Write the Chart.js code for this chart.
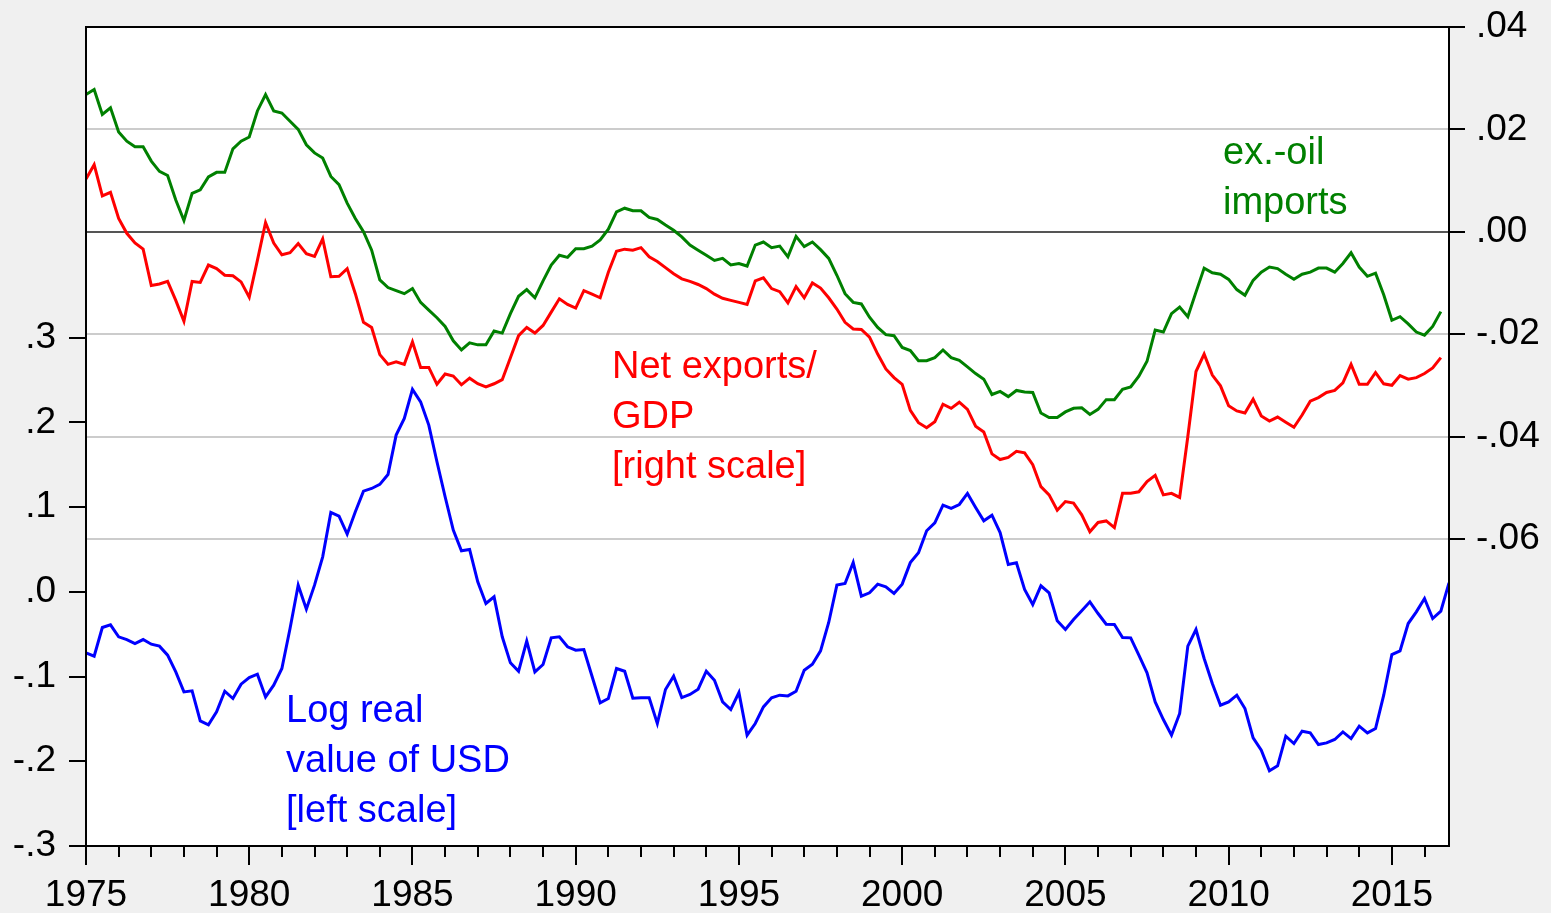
<!DOCTYPE html>
<html>
<head>
<meta charset="utf-8">
<title>Net exports and the real dollar</title>
<script src="https://cdn.jsdelivr.net/npm/chart.js@4.4.1/dist/chart.umd.min.js"></script>
<style>
  html, body { margin: 0; padding: 0; background: #f0f0f0; }
  canvas { display: block; }
</style>
</head>
<body>
<canvas id="lineChart" width="1551" height="913"></canvas>
<script>
// quarterly, 1975Q1 onwards
const startYear = 1975;
const endYear = 2016.75;

const yearTicks = [1975, 1980, 1985, 1990, 1995, 2000, 2005, 2010, 2015];
const leftTicks = [-0.3, -0.2, -0.1, 0.0, 0.1, 0.2, 0.3];
const rightTicks = [-0.06, -0.04, -0.02, 0.00, 0.02, 0.04];

// ex.-oil imports (right scale), 1975Q1-2016Q3
const exOilImports = [
  0.0268, 0.0278, 0.0229, 0.0242, 0.0195, 0.0177, 0.0166, 0.0166, 0.0138, 0.0118,
  0.0110, 0.0062, 0.0022, 0.0075, 0.0082, 0.0107, 0.0116, 0.0116, 0.0162, 0.0177,
  0.0185, 0.0236, 0.0268, 0.0236, 0.0232, 0.0216, 0.0200, 0.0170, 0.0154, 0.0144,
  0.0108, 0.0092, 0.0056, 0.0026, 0.0000, -0.0036, -0.0094, -0.0109, -0.0115, -0.0121,
  -0.0111, -0.0138, -0.0153, -0.0168, -0.0185, -0.0213, -0.0231, -0.0217, -0.0221, -0.0221,
  -0.0194, -0.0198, -0.0160, -0.0126, -0.0113, -0.0129, -0.0096, -0.0065, -0.0046, -0.0050,
  -0.0033, -0.0033, -0.0028, -0.0016, 0.0005, 0.0039, 0.0046, 0.0041, 0.0041, 0.0028,
  0.0024, 0.0013, 0.0003, -0.0010, -0.0026, -0.0036, -0.0046, -0.0056, -0.0052, -0.0065,
  -0.0062, -0.0067, -0.0026, -0.0020, -0.0031, -0.0028, -0.0049, -0.0009, -0.0029, -0.0020,
  -0.0035, -0.0052, -0.0085, -0.0121, -0.0138, -0.0141, -0.0167, -0.0187, -0.0201, -0.0203,
  -0.0226, -0.0232, -0.0252, -0.0252, -0.0246, -0.0231, -0.0246, -0.0251, -0.0264, -0.0277,
  -0.0288, -0.0318, -0.0312, -0.0322, -0.0310, -0.0313, -0.0314, -0.0354, -0.0363, -0.0363,
  -0.0352, -0.0345, -0.0344, -0.0357, -0.0347, -0.0328, -0.0328, -0.0308, -0.0303, -0.0282,
  -0.0253, -0.0192, -0.0196, -0.0160, -0.0147, -0.0166, -0.0118, -0.0071, -0.0080, -0.0083,
  -0.0093, -0.0113, -0.0124, -0.0095, -0.0079, -0.0069, -0.0072, -0.0083, -0.0093, -0.0083,
  -0.0079, -0.0071, -0.0071, -0.0079, -0.0062, -0.0041, -0.0069, -0.0087, -0.0081, -0.0123,
  -0.0173, -0.0166, -0.0180, -0.0196, -0.0202, -0.0185, -0.0156
];

// net exports / GDP (right scale), 1975Q1-2016Q3
const netExportsGdp = [
  0.0103, 0.0131, 0.0070, 0.0077, 0.0026, -0.0003, -0.0022, -0.0034, -0.0105, -0.0102,
  -0.0097, -0.0134, -0.0175, -0.0097, -0.0099, -0.0065, -0.0072, -0.0085, -0.0086, -0.0098,
  -0.0128, -0.0056, 0.0018, -0.0022, -0.0045, -0.0041, -0.0023, -0.0043, -0.0048, -0.0014,
  -0.0088, -0.0087, -0.0072, -0.0121, -0.0177, -0.0187, -0.0240, -0.0259, -0.0254, -0.0259,
  -0.0215, -0.0265, -0.0265, -0.0298, -0.0278, -0.0282, -0.0299, -0.0286, -0.0297, -0.0303,
  -0.0297, -0.0289, -0.0246, -0.0203, -0.0187, -0.0198, -0.0183, -0.0157, -0.0131, -0.0142,
  -0.0149, -0.0115, -0.0122, -0.0129, -0.0079, -0.0038, -0.0034, -0.0036, -0.0031, -0.0049,
  -0.0058, -0.0070, -0.0082, -0.0092, -0.0097, -0.0103, -0.0111, -0.0122, -0.0130, -0.0134,
  -0.0138, -0.0142, -0.0096, -0.0090, -0.0111, -0.0117, -0.0139, -0.0107, -0.0129, -0.0100,
  -0.0110, -0.0129, -0.0151, -0.0177, -0.0190, -0.0191, -0.0206, -0.0239, -0.0268, -0.0285,
  -0.0298, -0.0349, -0.0373, -0.0383, -0.0371, -0.0337, -0.0345, -0.0333, -0.0347, -0.0380,
  -0.0391, -0.0434, -0.0445, -0.0441, -0.0429, -0.0432, -0.0455, -0.0498, -0.0514, -0.0544,
  -0.0527, -0.0530, -0.0553, -0.0586, -0.0568, -0.0565, -0.0578, -0.0511, -0.0511, -0.0508,
  -0.0488, -0.0476, -0.0514, -0.0511, -0.0519, -0.0400, -0.0273, -0.0239, -0.0280, -0.0301,
  -0.0340, -0.0350, -0.0354, -0.0327, -0.0360, -0.0370, -0.0362, -0.0372, -0.0382, -0.0358,
  -0.0331, -0.0324, -0.0314, -0.0310, -0.0295, -0.0259, -0.0298, -0.0298, -0.0275, -0.0297,
  -0.0300, -0.0281, -0.0288, -0.0285, -0.0277, -0.0266, -0.0246
];

// log real value of USD (left scale), 1975Q1-2016Q4
const logRealUsd = [
  -0.0720, -0.0760, -0.0421, -0.0390, -0.0531, -0.0563, -0.0610, -0.0563, -0.0618, -0.0641,
  -0.0748, -0.0945, -0.1181, -0.1169, -0.1523, -0.1570, -0.1417, -0.1173, -0.1259, -0.1090,
  -0.1011, -0.0972, -0.1240, -0.1102, -0.0905, -0.0433, 0.0079, -0.0205, 0.0079, 0.0413,
  0.0937, 0.0893, 0.0681, 0.0945, 0.1189, 0.1220, 0.1268, 0.1385, 0.1850, 0.2047,
  0.2389, 0.2243, 0.1968, 0.1535, 0.1122, 0.0728, 0.0484, 0.0500, 0.0118, -0.0138,
  -0.0059, -0.0531, -0.0838, -0.0937, -0.0582, -0.0945, -0.0858, -0.0543, -0.0531, -0.0649,
  -0.0689, -0.0681, -0.0996, -0.1310, -0.1259, -0.0905, -0.0937, -0.1255, -0.1250, -0.1250,
  -0.1554, -0.1153, -0.0996, -0.1248, -0.1212, -0.1149, -0.0937, -0.1043, -0.1299, -0.1389,
  -0.1188, -0.1692, -0.1554, -0.1358, -0.1251, -0.1220, -0.1228, -0.1173, -0.0925, -0.0854,
  -0.0697, -0.0362, 0.0079, 0.0098, 0.0346, -0.0051, -0.0012, 0.0091, 0.0059, -0.0020,
  0.0091, 0.0345, 0.0461, 0.0721, 0.0815, 0.1023, 0.0984, 0.1031, 0.1161, 0.0996,
  0.0838, 0.0905, 0.0700, 0.0323, 0.0343, 0.0028, -0.0150, 0.0071, -0.0012, -0.0342,
  -0.0445, -0.0327, -0.0224, -0.0118, -0.0256, -0.0382, -0.0386, -0.0539, -0.0543, -0.0748,
  -0.0956, -0.1299, -0.1507, -0.1692, -0.1436, -0.0641, -0.0445, -0.0787, -0.1082, -0.1338,
  -0.1299, -0.1220, -0.1377, -0.1724, -0.1869, -0.2113, -0.2054, -0.1704, -0.1791, -0.1645,
  -0.1665, -0.1802, -0.1783, -0.1743, -0.1653, -0.1732, -0.1586, -0.1665, -0.1614, -0.1220,
  -0.0740, -0.0697, -0.0374, -0.0236, -0.0079, -0.0315, -0.0228, 0.0106
];

function toPoints(values) {
  return values.map((v, i) => ({ x: startYear + i / 4, y: v }));
}

// ".3", "-.1", ".00" style labels
function stripZero(v, digits) {
  return v.toFixed(digits).replace('0.', '.');
}

// fixed axis box, no extra label overflow padding
function fixBox(w) {
  return s => {
    s.width = w;
    s.paddingTop = 0;
    s.paddingBottom = 0;
  };
}

const FONT = "'Liberation Sans', Arial, sans-serif";
Chart.defaults.font.family = FONT;
Chart.defaults.font.size = 37;
Chart.defaults.color = '#000';

// white plot area + black frame + year tick marks
const framePlugin = {
  id: 'frame',
  beforeDraw(chart) {
    const a = chart.chartArea;
    const ctx = chart.ctx;
    ctx.save();
    ctx.fillStyle = '#ffffff';
    ctx.fillRect(a.left, a.top, a.right - a.left, a.bottom - a.top);
    ctx.restore();
  },
  afterDraw(chart) {
    const a = chart.chartArea;
    const ctx = chart.ctx;
    const xs = chart.scales.x;
    ctx.save();
    ctx.strokeStyle = '#000';
    ctx.lineWidth = 2;
    ctx.strokeRect(a.left, a.top, a.right - a.left, a.bottom - a.top);
    for (let yr = startYear; yr <= Math.floor(endYear); yr++) {
      const px = Math.round(xs.getPixelForValue(yr));
      const len = (yr % 5 === 0) ? 19 : 11;
      ctx.beginPath();
      ctx.moveTo(px, a.bottom);
      ctx.lineTo(px, a.bottom + len);
      ctx.stroke();
    }
    ctx.restore();
  }
};

// in-plot series labels
const labelPlugin = {
  id: 'seriesLabels',
  afterDatasetsDraw(chart) {
    const ctx = chart.ctx;
    const notes = [
      { lines: ['ex.-oil', 'imports'], x: 1223, y: 164, color: '#008000' },
      { lines: ['Net exports/', 'GDP', '[right scale]'], x: 612, y: 378, color: '#ff0000' },
      { lines: ['Log real', 'value of USD', '[left scale]'], x: 286, y: 722, color: '#0000ff' }
    ];
    ctx.save();
    ctx.font = '38px ' + FONT;
    ctx.textAlign = 'left';
    ctx.textBaseline = 'alphabetic';
    notes.forEach(n => {
      ctx.fillStyle = n.color;
      n.lines.forEach((t, k) => ctx.fillText(t, n.x, n.y + k * 50));
    });
    ctx.restore();
  }
};

const ctxLine = document.getElementById('lineChart').getContext('2d');
const lineChart = new Chart(ctxLine, {
  type: 'line',
  data: {
    datasets: [
      {
        label: 'ex.-oil imports',
        data: toPoints(exOilImports),
        yAxisID: 'y2',
        borderColor: '#008000',
        borderWidth: 3,
        pointRadius: 0,
        fill: false,
        tension: 0
      },
      {
        label: 'Net exports/GDP',
        data: toPoints(netExportsGdp),
        yAxisID: 'y2',
        borderColor: '#ff0000',
        borderWidth: 3,
        pointRadius: 0,
        fill: false,
        tension: 0
      },
      {
        label: 'Log real value of USD',
        data: toPoints(logRealUsd),
        yAxisID: 'y',
        borderColor: '#0000ff',
        borderWidth: 3,
        pointRadius: 0,
        fill: false,
        tension: 0
      }
    ]
  },
  options: {
    responsive: false,
    animation: false,
    devicePixelRatio: 1,
    layout: { padding: { top: 27, left: 0, right: 0, bottom: 0 } },
    plugins: { legend: { display: false }, tooltip: { enabled: false } },
    scales: {
      x: {
        type: 'linear',
        min: startYear,
        max: endYear,
        afterBuildTicks: s => { s.ticks = yearTicks.map(v => ({ value: v })); },
        afterFit: s => { s.height = 67; s.paddingLeft = 0; s.paddingRight = 0; },
        grid: { display: false, drawTicks: false },
        border: { display: false },
        ticks: { padding: 28, maxRotation: 0, autoSkip: false, callback: v => String(v) }
      },
      y: {
        position: 'left',
        min: -0.3,
        max: 0.6667,
        afterBuildTicks: s => { s.ticks = leftTicks.map(v => ({ value: v })); },
        afterFit: fixBox(86),
        grid: { drawOnChartArea: false, tickColor: '#000', tickLength: 17, lineWidth: 2 },
        border: { display: false },
        ticks: { padding: 13, callback: v => stripZero(v, 1) }
      },
      y2: {
        position: 'right',
        min: -0.12,
        max: 0.04,
        afterBuildTicks: s => { s.ticks = rightTicks.map(v => ({ value: v })); },
        afterFit: fixBox(102),
        grid: {
          drawOnChartArea: true,
          tickColor: '#000',
          tickLength: 16,
          lineWidth: 2,
          color: c => (c.tick && Math.abs(c.tick.value) < 1e-9) ? '#555555' : '#cccccc'
        },
        border: { display: false },
        ticks: { padding: 11, callback: v => stripZero(v, 2) }
      }
    }
  },
  plugins: [framePlugin, labelPlugin]
});
</script>
</body>
</html>
